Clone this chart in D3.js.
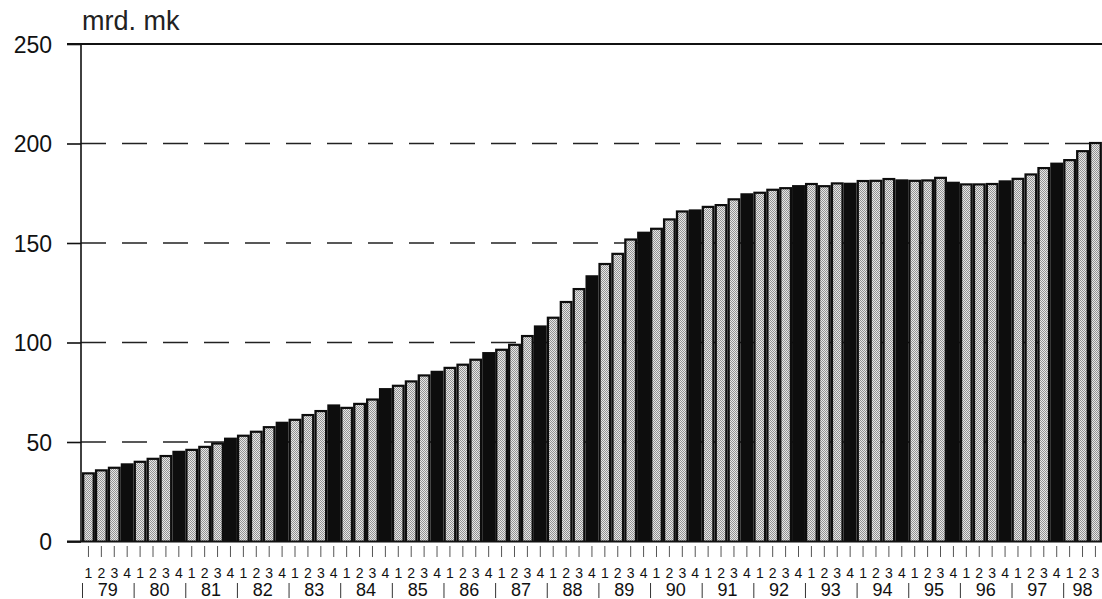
<!DOCTYPE html>
<html lang="fi">
<head>
    <meta charset="UTF-8">
    <title>mrd. mk</title>
    <script src="https://d3js.org/d3.v7.min.js"></script>
    <style>
        body {
            margin: 0;
            background-color: #ffffff;
        }
        svg {
            display: block;
            font-family: 'Liberation Sans', Arial, sans-serif;
        }
    </style>
</head>
<body>
    <svg id="chart" width="1102" height="599"></svg>

    <script>
        // vuosineljännekset 1979 Q1 - 1998 Q3
        const years = ["79", "80", "81", "82", "83", "84", "85", "86", "87", "88",
                       "89", "90", "91", "92", "93", "94", "95", "96", "97", "98"];
        const quarters = ["1", "2", "3", "4"];
        const values = [
            34.8, 36.3, 37.6, 39.3,
            40.6, 42.1, 43.5, 45.6,
            46.6, 48.1, 49.8, 52.2,
            53.7, 55.7, 58.0, 60.2,
            61.7, 64.1, 66.1, 68.9,
            67.7, 69.7, 71.9, 77.1,
            78.8, 81.0, 84.0, 85.8,
            87.8, 89.4, 91.9, 95.2,
            96.9, 99.4, 103.8, 108.6,
            113.0, 120.9, 127.4, 133.8,
            140.0, 145.1, 152.3, 155.7,
            157.7, 162.4, 166.4, 166.9,
            168.7, 169.6, 172.5, 175.0,
            175.8, 177.3, 178.1, 179.1,
            180.2, 179.1, 180.5, 180.3,
            181.7, 181.8, 182.7, 182.0,
            181.8, 182.0, 183.3, 180.8,
            180.0, 180.0, 180.2, 181.5,
            182.8, 185.0, 188.2, 190.4,
            192.2, 196.7, 200.8
        ];
        const yTicks = [0, 50, 100, 150, 200, 250];

        const data = values.map((v, i) => ({
            year: years[Math.floor(i / 4)],
            q: quarters[i % 4],
            key: years[Math.floor(i / 4)] + "-" + quarters[i % 4],
            value: v
        }));

        const svg = d3.select("#chart");
        const left = 82, right = 82 + 79 * 12.91;
        const x = d3.scaleBand().domain(data.map(d => d.key)).range([left, right]).padding(0);
        const y = d3.scaleLinear().domain([0, 250]).range([541.5, 44]);

        // harmaa rasterikuvio
        const pat = svg.append("defs").append("pattern")
            .attr("id", "dots")
            .attr("width", 2).attr("height", 2)
            .attr("patternUnits", "userSpaceOnUse");
        pat.append("rect").attr("width", 2).attr("height", 2).attr("fill", "#e6e6e6");
        pat.append("rect").attr("width", 1).attr("height", 1).attr("fill", "#939393");
        pat.append("rect").attr("x", 1).attr("y", 1).attr("width", 1).attr("height", 1).attr("fill", "#939393");

        // katkoviivat
        svg.selectAll("line.grid")
            .data(yTicks.filter(t => t > 0 && t < 250))
            .enter()
            .append("line")
            .attr("class", "grid")
            .attr("x1", 81).attr("x2", 1102)
            .attr("y1", d => y(d)).attr("y2", d => y(d))
            .style("stroke", "#222")
            .style("stroke-width", 1.6)
            .style("stroke-dasharray", "25,16");

        // palkit: musta pohja, harmaa sisus neljänneksille 1-3
        const bars = svg.selectAll("g.bar")
            .data(data)
            .enter()
            .append("g")
            .attr("class", "bar");

        bars.append("rect")
            .attr("x", d => x(d.key))
            .attr("y", d => y(d.value))
            .attr("width", x.bandwidth())
            .attr("height", d => y(0) - y(d.value))
            .style("fill", "#0d0d0d");

        bars.filter(d => d.q !== "4")
            .append("rect")
            .attr("x", d => x(d.key) + 2.3)
            .attr("y", d => y(d.value) + 2.2)
            .attr("width", x.bandwidth() - 4.6)
            .attr("height", d => y(0) - y(d.value) - 2.2)
            .style("fill", "url(#dots)");

        // akselit
        const yAxis = svg.append("g")
            .attr("transform", "translate(81,0)")
            .call(d3.axisLeft(y).tickValues(yTicks).tickSize(14).tickPadding(15));
        yAxis.select(".domain").remove();
        yAxis.selectAll(".tick line").style("stroke", "#111").style("stroke-width", 1.6);
        yAxis.selectAll(".tick text")
            .style("font-size", "23px")
            .style("fill", "#111")
            .attr("dy", "0.36em");

        svg.append("line")
            .attr("x1", 81).attr("x2", 81)
            .attr("y1", y(250)).attr("y2", y(0))
            .style("stroke", "#111").style("stroke-width", 1.6);
        svg.append("line")
            .attr("x1", 67).attr("x2", 1102)
            .attr("y1", y(250)).attr("y2", y(250))
            .style("stroke", "#111").style("stroke-width", 1.8);
        svg.append("line")
            .attr("x1", 67).attr("x2", 1102)
            .attr("y1", y(0)).attr("y2", y(0))
            .style("stroke", "#111").style("stroke-width", 1.8);

        // neljännesten merkit ja numerot
        const xAxis = svg.append("g")
            .attr("transform", "translate(0,546)")
            .call(d3.axisBottom(x).tickSize(11).tickPadding(11).tickFormat(k => k.split("-")[1]));
        xAxis.select(".domain").remove();
        xAxis.selectAll(".tick line").style("stroke", "#555").style("stroke-width", 1);
        xAxis.selectAll(".tick text")
            .style("font-size", "14px")
            .style("fill", "#111");

        // vuodet
        const yearInfo = years.map(yr => {
            const ks = data.filter(d => d.year === yr).map(d => d.key);
            return { year: yr, x0: x(ks[0]), x1: x(ks[ks.length - 1]) + x.bandwidth() };
        });

        svg.selectAll("line.sep")
            .data(yearInfo)
            .enter()
            .append("line")
            .attr("class", "sep")
            .attr("x1", d => d.x0 + 0.5).attr("x2", d => d.x0 + 0.5)
            .attr("y1", 583).attr("y2", 598)
            .style("stroke", "#333")
            .style("stroke-width", 1);

        svg.selectAll("text.year")
            .data(yearInfo)
            .enter()
            .append("text")
            .attr("class", "year")
            .attr("x", d => (d.x0 + d.x1) / 2)
            .attr("y", 596)
            .attr("text-anchor", "middle")
            .style("font-size", "18px")
            .style("fill", "#111")
            .text(d => d.year);

        svg.append("text")
            .attr("x", 82)
            .attr("y", 30)
            .style("font-size", "27px")
            .style("fill", "#222")
            .text("mrd. mk");
    </script>
</body>
</html>
